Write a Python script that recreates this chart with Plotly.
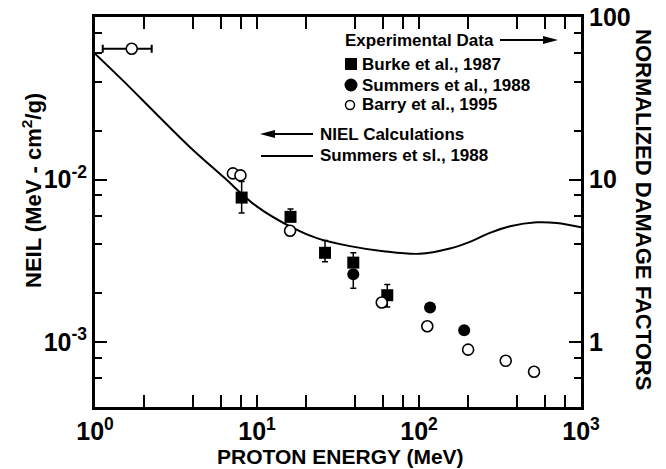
import plotly.graph_objects as go

# ---------------- data ----------------
calc_energy = [1.0, 1.5, 2.4, 3.86, 6.19, 9.96, 16.75, 23.4, 37.5, 60.2, 101, 155, 206, 274, 365, 533, 708, 1000]
calc_niel = [0.0595, 0.0403, 0.0252, 0.0158, 0.01038, 0.00683, 0.00502, 0.00436, 0.00389, 0.00362,
             0.00349, 0.00376, 0.00413, 0.00469, 0.00515, 0.00545, 0.0054, 0.00509]

burke_energy = [8.04, 16.1, 26.3, 39.3, 63.7]
burke_niel = [0.00774, 0.00589, 0.00354, 0.00308, 0.00194]
burke_err_plus = [0.00198, 0.0007, 0.00067, 0.00046, 0.00032]
burke_err_minus = [0.00153, 0.0, 0.00042, 0.0, 0.0003]

summers_energy = [39.3, 117, 190]
summers_niel = [0.00261, 0.00163, 0.00118]
summers_err_minus = [0.00047, 0.0, 0.0]

barry_energy = [1.685, 7.1, 7.9, 16.0, 58.9, 112.5, 201, 343, 513]
barry_niel = [0.0638, 0.0109, 0.0106, 0.00484, 0.00175, 0.00125, 0.000897, 0.000766, 0.000656]
barry_xerr_plus = [0.554, 0, 0, 0, 0, 0, 0, 0, 0]
barry_xerr_minus = [0.569, 0, 0, 0, 0, 0, 0, 0, 0]

x_tickvals = [1, 10, 100, 1000]
x_ticktext = ["10<sup>0</sup>", "10<sup>1</sup>", "10<sup>2</sup>", "10<sup>3</sup>"]
x_minor = [m * d for d in (1, 10, 100) for m in (2, 4, 6, 8)]
y_tickvals = [0.001, 0.01, 0.1]
y_ticktext = ["10<sup>-3</sup>", "10<sup>-2</sup>", "10<sup>-1</sup>"]
y_minor = [m * d for d in (0.0001, 0.001, 0.01) for m in (2, 4, 6, 8) if m * d > 0.0004]
y2_tickvals = [1, 10, 100]
y2_ticktext = ["1", "10", "100"]
y2_minor = [m * d for d in (0.1, 1, 10) for m in (2, 4, 6, 8) if m * d > 0.4]

# ---------------- layout helpers ----------------
W, H = 666, 469
L, R, T, B = 95, 85, 17, 62
PW, PH = W - L - R, H - T - B
FONT = "Liberation Sans, Arial, Helvetica, sans-serif"


def fx(px):
    return (px - L) / PW


def fy(py):
    return (H - B - py) / PH


fig = go.Figure()

fig.add_trace(go.Scatter(x=calc_energy, y=calc_niel, mode="lines", line=dict(color="black", width=2, shape="spline"),
                         showlegend=False, hoverinfo="skip"))
fig.add_trace(go.Scatter(x=burke_energy, y=burke_niel, mode="markers",
                         marker=dict(symbol="square", size=12, color="black"),
                         error_y=dict(type="data", array=burke_err_plus, arrayminus=burke_err_minus,
                                      color="black", thickness=1.5, width=3),
                         showlegend=False))
fig.add_trace(go.Scatter(x=summers_energy, y=summers_niel, mode="markers",
                         marker=dict(symbol="circle", size=12, color="black"),
                         error_y=dict(type="data", array=[0, 0, 0], arrayminus=summers_err_minus,
                                      color="black", thickness=1.5, width=3),
                         showlegend=False))
fig.add_trace(go.Scatter(x=barry_energy, y=barry_niel, mode="markers",
                         marker=dict(symbol="circle", size=11, color="white", line=dict(color="black", width=1.6)),
                         error_x=dict(type="data", array=barry_xerr_plus, arrayminus=barry_xerr_minus,
                                      color="black", thickness=2, width=4),
                         showlegend=False))
fig.add_trace(go.Scatter(x=[1], y=[1], yaxis="y2", mode="markers", marker=dict(opacity=0),
                         showlegend=False, hoverinfo="skip"))

axis_common = dict(showline=True, linecolor="black", linewidth=3, ticks="inside", ticklen=12, tickwidth=2,
                   tickcolor="black", showgrid=False, zeroline=False, automargin=False,
                   tickfont=dict(family=FONT, size=25, color="black", weight="bold"))

fig.update_layout(
    width=W, height=H, margin=dict(l=L, r=R, t=T, b=B, autoexpand=False),
    paper_bgcolor="white", plot_bgcolor="white",
    xaxis=dict(type="log", range=[0, 3], tickmode="array", tickvals=x_tickvals, ticktext=x_ticktext,
               mirror="allticks",
               minor=dict(tickvals=x_minor, ticks="inside", ticklen=7, tickwidth=2, tickcolor="black"),
               **axis_common),
    yaxis=dict(type="log", range=[-3.4, -1], tickmode="array", tickvals=y_tickvals, ticktext=y_ticktext,
               mirror=False,
               minor=dict(tickvals=y_minor, ticks="inside", ticklen=7, tickwidth=2, tickcolor="black"),
               **axis_common),
    yaxis2=dict(type="log", range=[-0.4, 2], overlaying="y", side="right", tickmode="array",
                tickvals=y2_tickvals, ticktext=y2_ticktext,
                minor=dict(tickvals=y2_minor, ticks="inside", ticklen=7, tickwidth=2, tickcolor="black"),
                **axis_common),
    showlegend=False,
)

txt = dict(family=FONT, size=17, color="black", weight="bold")
ttl = dict(family=FONT, size=22, color="black", weight="bold")

ann = []
# axis titles
ann.append(dict(x=fx(340), y=fy(470), text="PROTON ENERGY (MeV)", font=dict(ttl, size=21), yanchor="bottom"))
ann.append(dict(x=fx(32), y=fy(191), text="NEIL (MeV - cm<sup>2</sup>/g)", textangle=-90, font=ttl))
ann.append(dict(x=fx(644), y=fy(209), text="NORMALIZED DAMAGE FACTORS", textangle=90, font=ttl))
# key texts
ann.append(dict(x=fx(343), y=fy(40), text="Experimental Data", xanchor="left", font=txt))
ann.append(dict(x=fx(360), y=fy(64), text="Burke et al., 1987", xanchor="left", font=txt))
ann.append(dict(x=fx(360), y=fy(85), text="Summers et al., 1988", xanchor="left", font=txt))
ann.append(dict(x=fx(360), y=fy(105), text="Barry et al., 1995", xanchor="left", font=txt))
ann.append(dict(x=fx(318), y=fy(134), text="NIEL Calculations", xanchor="left", font=txt))
ann.append(dict(x=fx(318), y=fy(155), text="Summers et sl., 1988", xanchor="left", font=txt))
for a in ann:
    a.update(xref="paper", yref="paper", showarrow=False, yanchor=a.get("yanchor", "middle"),
             xanchor=a.get("xanchor", "center"))
fig.update_layout(annotations=ann)

shapes = []
line_style = dict(color="black", width=2)
# arrow: Experimental Data ->
shapes.append(dict(type="line", xref="paper", yref="paper", x0=fx(500), x1=fx(546), y0=fy(40), y1=fy(40),
                   line=line_style))
shapes.append(dict(type="path", xref="paper", yref="paper", xsizemode="pixel", ysizemode="pixel",
                   xanchor=fx(558), yanchor=fy(40), path="M 0 0 L -15 4 L -15 -4 Z",
                   fillcolor="black", line=dict(width=0)))
# arrow: <- NIEL Calculations
shapes.append(dict(type="line", xref="paper", yref="paper", x0=fx(272), x1=fx(313), y0=fy(134), y1=fy(134),
                   line=line_style))
shapes.append(dict(type="path", xref="paper", yref="paper", xsizemode="pixel", ysizemode="pixel",
                   xanchor=fx(260), yanchor=fy(134), path="M 0 0 L 15 4 L 15 -4 Z",
                   fillcolor="black", line=dict(width=0)))
# line key
shapes.append(dict(type="line", xref="paper", yref="paper", x0=fx(261), x1=fx(313), y0=fy(156), y1=fy(156),
                   line=line_style))
# key symbols
shapes.append(dict(type="rect", xref="paper", yref="paper", xsizemode="pixel", ysizemode="pixel",
                   xanchor=fx(351), yanchor=fy(64), x0=-6, x1=6, y0=-6, y1=6,
                   fillcolor="black", line=dict(width=0)))
shapes.append(dict(type="circle", xref="paper", yref="paper", xsizemode="pixel", ysizemode="pixel",
                   xanchor=fx(351), yanchor=fy(85), x0=-6.5, x1=6.5, y0=-6.5, y1=6.5,
                   fillcolor="black", line=dict(width=0)))
shapes.append(dict(type="circle", xref="paper", yref="paper", xsizemode="pixel", ysizemode="pixel",
                   xanchor=fx(350), yanchor=fy(105), x0=-4.5, x1=4.5, y0=-4.5, y1=4.5,
                   fillcolor="white", line=dict(color="black", width=1.5)))
fig.update_layout(shapes=shapes)

fig.write_html("out.html")
